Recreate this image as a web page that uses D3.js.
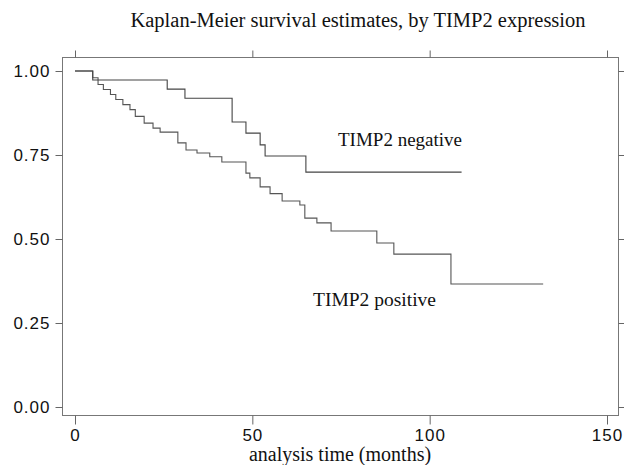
<!DOCTYPE html>
<html lang="en">
<head>
<meta charset="UTF-8">
<title>Kaplan-Meier survival estimates, by TIMP2 expression</title>
<script src="https://d3js.org/d3.v7.min.js"></script>
<style>
  body, html { margin: 0; padding: 0; background: #fff; }
  svg { display: block; }
</style>
</head>
<body>
<div id="chart"></div>
<script>
// step data: [time in months, survival]
const negativeTimes = [0, 5, 26, 31, 44.3, 48.2, 52.2, 53.6, 65.1, 109];
const negativeSurv  = [1.0, 0.973, 0.946, 0.919, 0.848, 0.815, 0.78, 0.747, 0.699, 0.699];

const positiveTimes = [0, 5, 6.5, 8, 10, 11.5, 13.5, 15.5, 17, 19.5, 22, 24, 29, 31.3, 34.4, 38, 41.4,
                       48.2, 49.3, 52.2, 55, 58.4, 63.4, 64.8, 68.2, 72.2, 85.1, 89.9, 106, 132];
const positiveSurv  = [1.0, 0.98, 0.96, 0.945, 0.93, 0.915, 0.9, 0.885, 0.865, 0.845, 0.83, 0.818, 0.786, 0.765, 0.756, 0.745, 0.729,
                       0.696, 0.682, 0.655, 0.635, 0.613, 0.601, 0.562, 0.548, 0.524, 0.488, 0.455, 0.366, 0.366];

const xTicks = [0, 50, 100, 150];
const yTicks = [0, 0.25, 0.5, 0.75, 1];

const width = 624, height = 465;
const frame = { left: 62, right: 618, top: 57, bottom: 415 };

const svg = d3.select("#chart").append("svg")
    .attr("width", width)
    .attr("height", height);

const x = d3.scaleLinear().domain([0, 150]).range([75, 607]);
const y = d3.scaleLinear().domain([0, 1]).range([407, 71]);

// frame box
svg.append("rect")
    .attr("x", frame.left + 0.5)
    .attr("y", frame.top + 0.5)
    .attr("width", frame.right - frame.left)
    .attr("height", frame.bottom - frame.top)
    .attr("fill", "none")
    .attr("stroke", "#777")
    .attr("stroke-width", 1);

// axes: ticks on all four sides, labels left and bottom
const tickFmt = d3.format(".2f");
const axisStyle = g => {
    g.select(".domain").remove();
    g.selectAll(".tick line").attr("stroke", "#666");
    g.selectAll(".tick text")
        .attr("fill", "#111")
        .style("font-family", "'Liberation Sans', Arial, sans-serif")
        .style("font-size", "17px")
        .style("letter-spacing", "1px");
};

svg.append("g")
    .attr("transform", `translate(0,${frame.bottom + 0.5})`)
    .call(d3.axisBottom(x).tickValues(xTicks).tickSize(9).tickPadding(4))
    .call(axisStyle);

svg.append("g")
    .attr("transform", `translate(0,${frame.top + 0.5})`)
    .call(d3.axisTop(x).tickValues(xTicks).tickSize(7).tickFormat(""))
    .call(axisStyle);

svg.append("g")
    .attr("transform", `translate(${frame.left + 0.5},0)`)
    .call(d3.axisLeft(y).tickValues(yTicks).tickSize(7).tickPadding(5).tickFormat(tickFmt))
    .call(axisStyle);

svg.append("g")
    .attr("transform", `translate(${frame.right + 0.5},0)`)
    .call(d3.axisRight(y).tickValues(yTicks).tickSize(6).tickFormat(""))
    .call(axisStyle);

// survival curves
const line = d3.line()
    .x(d => x(d[0]))
    .y(d => y(d[1]))
    .curve(d3.curveStepAfter);

const negData = d3.zip(negativeTimes, negativeSurv);
const posData = d3.zip(positiveTimes, positiveSurv);

svg.append("path")
    .datum(posData)
    .attr("d", line)
    .attr("fill", "none")
    .attr("stroke", "#555")
    .attr("stroke-width", 1.1);

svg.append("path")
    .datum(negData)
    .attr("d", line)
    .attr("fill", "none")
    .attr("stroke", "#444")
    .attr("stroke-width", 1.1);

// texts
const serif = "'Liberation Serif', 'Times New Roman', serif";

svg.append("text")
    .attr("x", 358).attr("y", 27)
    .attr("text-anchor", "middle")
    .style("font-family", serif).style("font-size", "20.5px")
    .attr("fill", "#111")
    .text("Kaplan-Meier survival estimates, by TIMP2 expression");

svg.append("text")
    .attr("x", 338).attr("y", 146)
    .style("font-family", serif).style("font-size", "19px")
    .attr("fill", "#111")
    .text("TIMP2 negative");

svg.append("text")
    .attr("x", 313).attr("y", 306)
    .style("font-family", serif).style("font-size", "19.5px")
    .attr("fill", "#111")
    .text("TIMP2 positive");

svg.append("text")
    .attr("x", 340).attr("y", 461)
    .attr("text-anchor", "middle")
    .style("font-family", serif).style("font-size", "20px")
    .attr("fill", "#111")
    .text("analysis time (months)");
</script>
</body>
</html>
